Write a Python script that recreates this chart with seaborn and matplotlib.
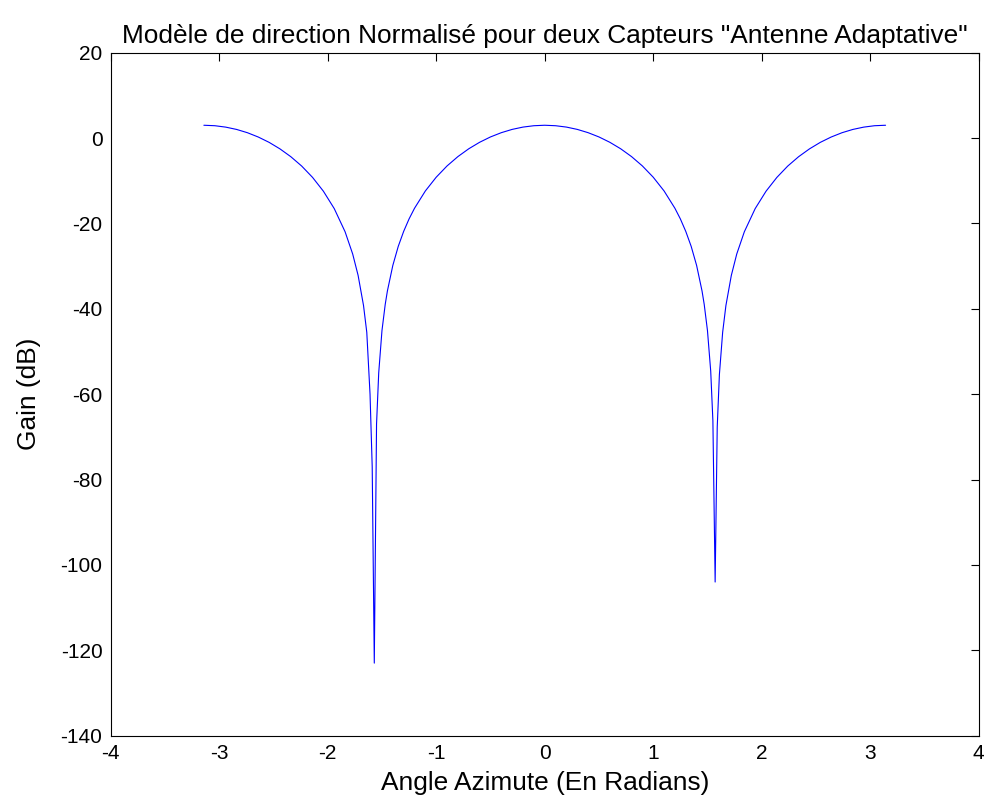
import matplotlib
matplotlib.use("Agg")
import matplotlib.pyplot as plt
import seaborn as sns
import pandas as pd

# (angle in radians, gain in dB)
angle_left = [-3.1416, -3.04, -2.94, -2.84, -2.74, -2.64, -2.54, -2.44, -2.34, -2.24,
              -2.14, -2.04, -1.94, -1.84, -1.77, -1.72, -1.67, -1.64, -1.61, -1.59,
              -1.5708, -1.55, -1.53, -1.50, -1.47, -1.45, -1.40, -1.35, -1.30, -1.25,
              -1.20, -1.10, -1.00, -0.90, -0.80, -0.70, -0.60, -0.50, -0.40, -0.30,
              -0.20, -0.10]
gain_left = [3.01, 2.90, 2.57, 2.03, 1.26, 0.25, -1.00, -2.53, -4.36, -6.55,
             -9.20, -12.44, -16.51, -21.94, -27.15, -32.16, -39.23, -45.5, -60.0, -77.0,
             -123.0, -67.0, -55.0, -45.09, -38.95, -35.82, -29.83, -25.37, -21.85, -18.92,
             -16.44, -12.38, -9.16, -6.52, -4.33, -2.50, -0.98, 0.27, 1.27, 2.04,
             2.58, 2.90]

angle_right = [0.00, 0.10, 0.20, 0.30, 0.40, 0.50, 0.60, 0.70, 0.80, 0.90,
               1.00, 1.10, 1.20, 1.25, 1.30, 1.35, 1.40, 1.45, 1.47, 1.50,
               1.53, 1.55, 1.5708, 1.59, 1.61, 1.64, 1.67, 1.72, 1.77, 1.84,
               1.94, 2.04, 2.14, 2.24, 2.34, 2.44, 2.54, 2.64, 2.74, 2.84,
               2.94, 3.04, 3.1416]
gain_right = [3.01, 2.90, 2.58, 2.04, 1.27, 0.27, -0.98, -2.50, -4.33, -6.52,
              -9.16, -12.38, -16.44, -18.92, -21.85, -25.37, -29.83, -35.82, -38.95, -45.09,
              -54.6, -66.2, -104.0, -67.7, -55.4, -45.5, -39.23, -32.16, -27.15, -21.94,
              -16.51, -12.44, -9.20, -6.55, -4.36, -2.53, -1.00, 0.25, 1.26, 2.03,
              2.57, 2.90, 3.01]

x_ticks = [-4, -3, -2, -1, 0, 1, 2, 3, 4]
y_ticks = [-140, -120, -100, -80, -60, -40, -20, 0, 20]

title_text = 'Modèle de direction Normalisé pour deux Capteurs "Antenne Adaptative"'
x_label = "Angle Azimute (En Radians)"
y_label = "Gain (dB)"

sns.set_style("white")
plt.rcParams["font.family"] = ["Liberation Sans", "DejaVu Sans"]
plt.rcParams["text.color"] = "black"
plt.rcParams["axes.labelcolor"] = "black"

df = pd.DataFrame({"angle": angle_left + angle_right,
                   "gain": gain_left + gain_right})

fig = plt.figure(figsize=(9.86, 8.05), dpi=100)
ax = fig.add_axes([0.1123, 0.0861, 0.8803, 0.8484])

sns.lineplot(data=df, x="angle", y="gain", sort=False, estimator=None,
             color=(0, 0, 1), linewidth=0.8, ax=ax)

ax.set_xlim(-4, 4)
ax.set_ylim(-140, 20)
ax.set_xticks(x_ticks)
ax.set_yticks(y_ticks)
ax.set_xticklabels([str(t) for t in x_ticks])
ax.set_yticklabels([str(t) for t in y_ticks])
ax.tick_params(direction="in", length=6, width=0.8, top=True, right=True,
               labelsize=15, colors="black", pad=6)
for s in ax.spines.values():
    s.set_color("black")
    s.set_linewidth(0.8)
    s.set_visible(True)

ax.set_title(title_text, fontsize=18.9, pad=7, color="black")
ax.set_xlabel(x_label, fontsize=18.9, labelpad=6, color="black")
ax.set_ylabel(y_label, fontsize=18.9, labelpad=14, color="black")

fig.savefig("out.png", dpi=100, facecolor="white")
